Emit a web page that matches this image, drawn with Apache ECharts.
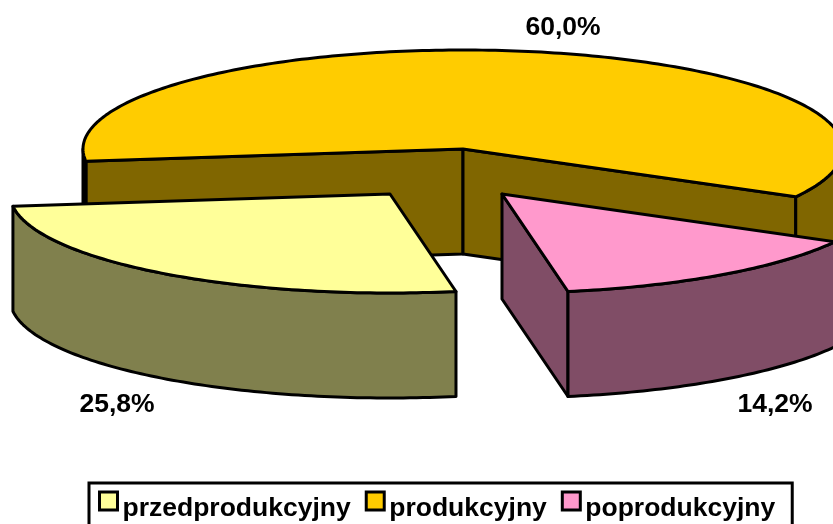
<!DOCTYPE html>
<html>
<head>
<meta charset="utf-8">
<style>html,body{margin:0;padding:0;background:#fff;overflow:hidden}#c{width:833px;height:524px}</style>
<script src="https://cdn.jsdelivr.net/npm/echarts@6/dist/echarts.min.js"></script>
</head>
<body>
<div id="c"></div>
<script>
const sliceNames = ['przedprodukcyjny', 'produkcyjny', 'poprodukcyjny'];
const sliceValues = [25.8, 60.0, 14.2];

const topColors = ['#FFFF99', '#FFCC00', '#FF99CC'];
const sideColors = ['#80804D', '#806600', '#804D66'];

// Layout of the pseudo-3D pie
const pieCenter = [447, 174];
const radiusX = 380, radiusY = 99, depth = 105;
const firstSliceAngle = 170;
const explodeOffsets = [[-57, 20], [16, -25], [55, 20]];
const labelOffsets = [[-273, 211], [100, -121], [273, 211]];
const fontFamily = '"Liberation Sans", Arial, sans-serif';
const lineStyle = { stroke: '#000', lineWidth: 3, lineJoin: 'round' };

const total = sliceValues.reduce((a, b) => a + b, 0);

function rimPoints(ox, oy, from, to, dy) {
  const pts = [], n = Math.max(2, Math.ceil(Math.abs(from - to)));
  for (let i = 0; i <= n; i++) {
    const t = (from + (to - from) * i / n) * Math.PI / 180;
    pts.push([ox + radiusX * Math.cos(t), oy - radiusY * Math.sin(t) + dy]);
  }
  return pts;
}
function poly(points, fill, z2) {
  return { type: 'polygon', z2: z2, shape: { points: points }, style: Object.assign({ fill: fill }, lineStyle) };
}
function sideFace(ox, oy, t, fill, z2) {
  const r = t * Math.PI / 180;
  const x = ox + radiusX * Math.cos(r), y = oy - radiusY * Math.sin(r);
  return poly([[ox, oy], [x, y], [x, y + depth], [ox, oy + depth]], fill, z2);
}
function renderSlice(index) {
  return function (params, api) {
    const value = api.value(0);
    let before = 0;
    for (let i = 0; i < index; i++) before += sliceValues[i];
    const a = 90 - firstSliceAngle - 360 * before / total;
    const b = a - 360 * value / total;
    const ox = pieCenter[0] + explodeOffsets[index][0];
    const oy = pieCenter[1] + explodeOffsets[index][1];
    const kids = [];
    if (Math.cos(a * Math.PI / 180) < 0) kids.push(sideFace(ox, oy, a, sideColors[index], 1));
    if (Math.cos(b * Math.PI / 180) > 0) kids.push(sideFace(ox, oy, b, sideColors[index], 1));
    for (let k = -2; k <= 2; k++) {
      const hi = Math.min(a, 360 * k), lo = Math.max(b, 360 * k - 180);
      if (hi > lo) {
        const front = rimPoints(ox, oy, hi, lo, 0);
        const back = rimPoints(ox, oy, lo, hi, depth);
        kids.push(poly(front.concat(back), sideColors[index], 2));
      }
    }
    kids.push(poly([[ox, oy]].concat(rimPoints(ox, oy, a, b, 0)), topColors[index], 3));
    kids.push({
      type: 'text', z2: 4,
      style: {
        x: ox + labelOffsets[index][0], y: oy + labelOffsets[index][1],
        text: value.toFixed(1).replace('.', ',') + '%',
        fill: '#000', font: 'bold 26.5px ' + fontFamily, align: 'center', verticalAlign: 'middle'
      }
    });
    return { type: 'group', children: kids };
  };
}

const chart = echarts.init(document.getElementById('c'), null, { renderer: 'canvas' });
chart.setOption({
  animation: false,
  backgroundColor: '#fff',
  legend: {
    left: 89, top: 483,
    data: sliceNames,
    icon: 'rect',
    itemWidth: 18, itemHeight: 18, itemGap: 14,
    padding: [7, 17, 30, 9],
    borderColor: '#000', borderWidth: 3,
    itemStyle: { borderColor: '#000', borderWidth: 3 },
    formatter: '{t|{name}}',
    textStyle: {
      color: '#000', fontFamily: fontFamily, fontWeight: 'bold', fontSize: 26.5,
      rich: { t: { color: '#000', fontFamily: fontFamily, fontWeight: 'bold', fontSize: 26.5, lineHeight: 22, verticalAlign: 'top', padding: [5, 0, 0, 0] } }
    }
  },
  series: sliceNames.map((name, i) => ({
    type: 'custom',
    name: name,
    coordinateSystem: 'none',
    silent: true,
    z: 2 + (i === 1 ? 0 : 1),
    itemStyle: { color: topColors[i] },
    renderItem: renderSlice(i),
    data: [[sliceValues[i]]]
  }))
});
</script>
</body>
</html>
